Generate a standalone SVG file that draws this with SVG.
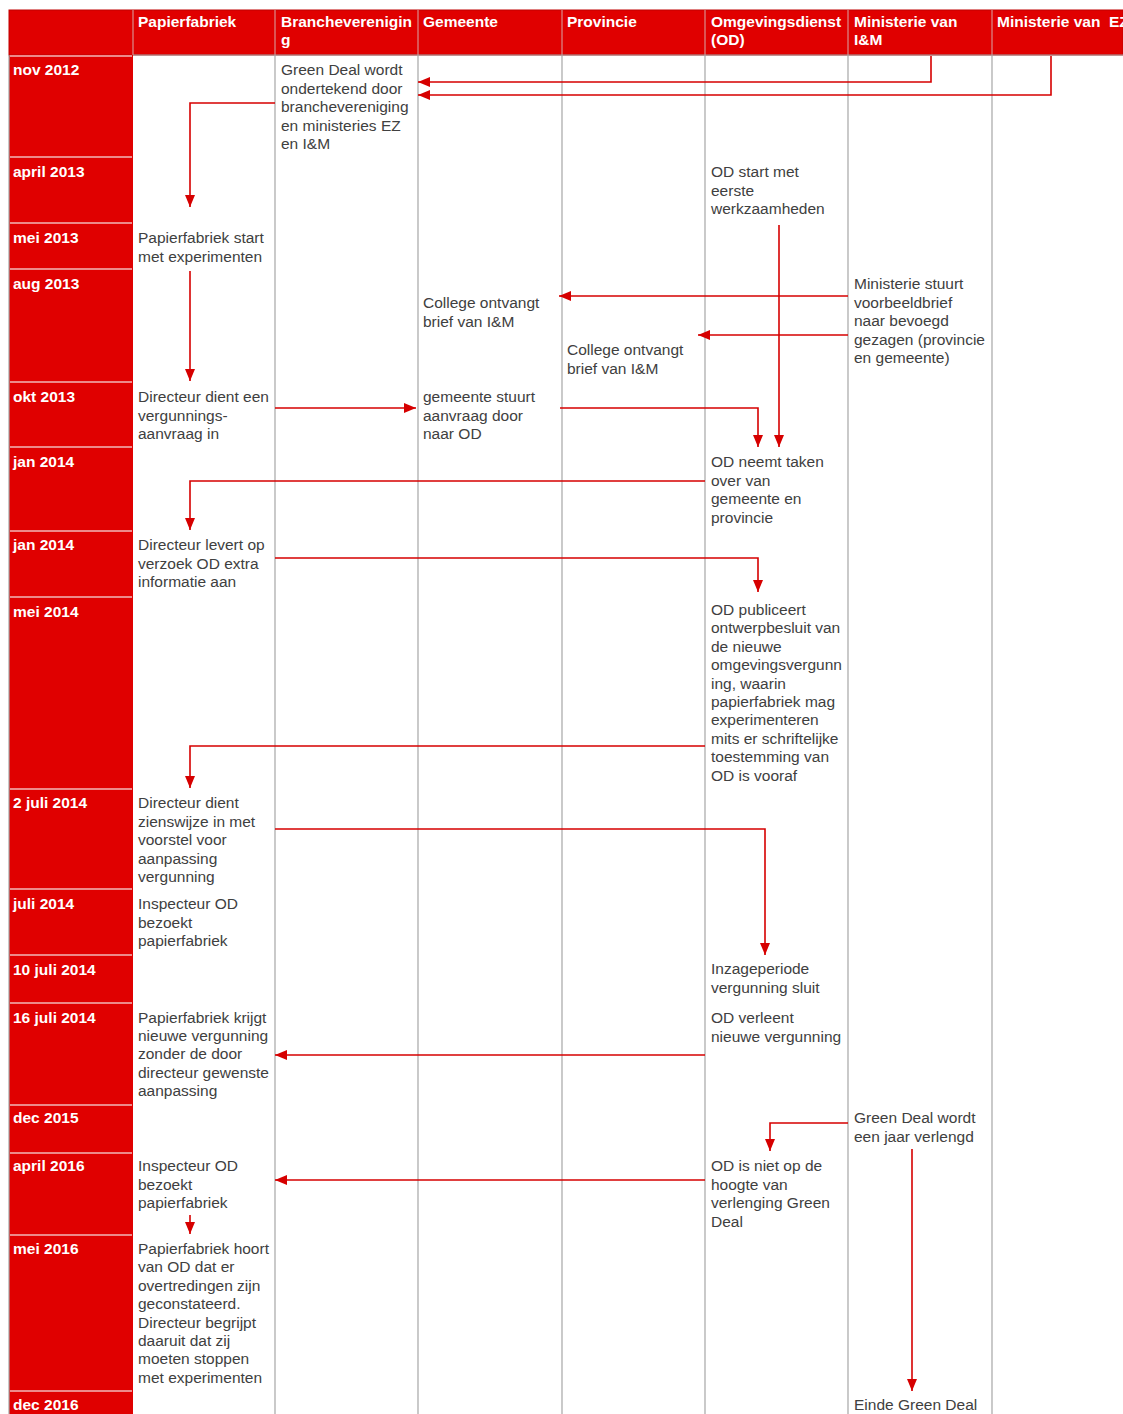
<svg xmlns="http://www.w3.org/2000/svg" width="1123" height="1414" viewBox="0 0 1123 1414">
<defs>
<style>
.h{font-family:"Liberation Sans",Arial,sans-serif;font-size:15.5px;font-weight:bold;fill:#fff}
.d{font-family:"Liberation Sans",Arial,sans-serif;font-size:15.5px;font-weight:bold;fill:#fff}
.t{font-family:"Liberation Sans",Arial,sans-serif;font-size:15.5px;fill:#404040}
.g{stroke:#a6a6a6;stroke-width:1.2}
.s{stroke:#f2b8b8;stroke-width:1.5}
.hs{stroke:#d8a8a8;stroke-width:1}
.c{stroke:#d60000;stroke-width:1.6;fill:none;marker-end:url(#a)}
</style>
<marker id="a" markerUnits="userSpaceOnUse" markerWidth="12" markerHeight="10" refX="12" refY="5" orient="auto">
<path d="M0,0 L12,5 L0,10 z" fill="#d60000"/>
</marker>
</defs>
<rect x="0" y="0" width="1123" height="1414" fill="#fff"/>
<g id="grid">
<rect x="9" y="10" width="1114" height="45" fill="#e00000" stroke="#c00000" stroke-width="1"/>
<rect x="9" y="55" width="124" height="1359" fill="#e00000"/>
<line class="hs" x1="133" y1="10" x2="133" y2="55"/>
<line class="hs" x1="275" y1="10" x2="275" y2="55"/>
<line class="hs" x1="418" y1="10" x2="418" y2="55"/>
<line class="hs" x1="562" y1="10" x2="562" y2="55"/>
<line class="hs" x1="705" y1="10" x2="705" y2="55"/>
<line class="hs" x1="848" y1="10" x2="848" y2="55"/>
<line class="hs" x1="992" y1="10" x2="992" y2="55"/>
<line class="g" x1="9" y1="55" x2="9" y2="1414"/>
<line class="g" x1="275" y1="55" x2="275" y2="1414"/>
<line class="g" x1="418" y1="55" x2="418" y2="1414"/>
<line class="g" x1="562" y1="55" x2="562" y2="1414"/>
<line class="g" x1="705" y1="55" x2="705" y2="1414"/>
<line class="g" x1="848" y1="55" x2="848" y2="1414"/>
<line class="g" x1="992" y1="55" x2="992" y2="1414"/>
<line class="g" x1="133" y1="55" x2="1123" y2="55"/>
<g>
<line class="s" x1="10" y1="56" x2="132" y2="56"/>
<line class="s" x1="10" y1="157" x2="132" y2="157"/>
<line class="s" x1="10" y1="223" x2="132" y2="223"/>
<line class="s" x1="10" y1="269" x2="132" y2="269"/>
<line class="s" x1="10" y1="382" x2="132" y2="382"/>
<line class="s" x1="10" y1="447" x2="132" y2="447"/>
<line class="s" x1="10" y1="531" x2="132" y2="531"/>
<line class="s" x1="10" y1="597" x2="132" y2="597"/>
<line class="s" x1="10" y1="789" x2="132" y2="789"/>
<line class="s" x1="10" y1="889" x2="132" y2="889"/>
<line class="s" x1="10" y1="955" x2="132" y2="955"/>
<line class="s" x1="10" y1="1003" x2="132" y2="1003"/>
<line class="s" x1="10" y1="1105" x2="132" y2="1105"/>
<line class="s" x1="10" y1="1153" x2="132" y2="1153"/>
<line class="s" x1="10" y1="1235" x2="132" y2="1235"/>
<line class="s" x1="10" y1="1391" x2="132" y2="1391"/>
</g>
</g>
<g id="header">
<text class="h" x="138" y="27">Papierfabriek</text>
<text class="h" x="281" y="27">Brancheverenigin<tspan x="281" y="45">g</tspan></text>
<text class="h" x="423" y="27">Gemeente</text>
<text class="h" x="567" y="27">Provincie</text>
<text class="h" x="711" y="27">Omgevingsdienst<tspan x="711" y="45">(OD)</tspan></text>
<text class="h" x="854" y="27">Ministerie van<tspan x="854" y="45">I&amp;M</tspan></text>
<text class="h" x="997" y="27" xml:space="preserve">Ministerie van  EZ</text>
</g>
<g id="dates">
<text class="d" x="13" y="75">nov 2012</text>
<text class="d" x="13" y="177">april 2013</text>
<text class="d" x="13" y="243">mei 2013</text>
<text class="d" x="13" y="289">aug 2013</text>
<text class="d" x="13" y="402">okt 2013</text>
<text class="d" x="13" y="467">jan 2014</text>
<text class="d" x="13" y="550">jan 2014</text>
<text class="d" x="13" y="617">mei 2014</text>
<text class="d" x="13" y="808">2 juli 2014</text>
<text class="d" x="13" y="909">juli 2014</text>
<text class="d" x="13" y="975">10 juli 2014</text>
<text class="d" x="13" y="1023">16 juli 2014</text>
<text class="d" x="13" y="1123">dec 2015</text>
<text class="d" x="13" y="1171">april 2016</text>
<text class="d" x="13" y="1254">mei 2016</text>
<text class="d" x="13" y="1410">dec 2016</text>
</g>
<g id="n1"><text class="t" x="281" y="75">Green Deal wordt<tspan x="281" dy="18.5">ondertekend door</tspan><tspan x="281" dy="18.5">branchevereniging</tspan><tspan x="281" dy="18.5">en ministeries EZ</tspan><tspan x="281" dy="18.5">en I&amp;M</tspan></text></g>
<g id="n2"><text class="t" x="711" y="177">OD start met<tspan x="711" dy="18.5">eerste</tspan><tspan x="711" dy="18.5">werkzaamheden</tspan></text></g>
<g id="n3"><text class="t" x="138" y="243">Papierfabriek start<tspan x="138" dy="18.5">met experimenten</tspan></text></g>
<g id="n4"><text class="t" x="423" y="308">College ontvangt<tspan x="423" dy="18.5">brief van I&amp;M</tspan></text></g>
<g id="n5"><text class="t" x="567" y="355">College ontvangt<tspan x="567" dy="18.5">brief van I&amp;M</tspan></text></g>
<g id="n6"><text class="t" x="854" y="289">Ministerie stuurt<tspan x="854" dy="18.5">voorbeeldbrief</tspan><tspan x="854" dy="18.5">naar bevoegd</tspan><tspan x="854" dy="18.5">gezagen (provincie</tspan><tspan x="854" dy="18.5">en gemeente)</tspan></text></g>
<g id="n7"><text class="t" x="138" y="402">Directeur dient een<tspan x="138" dy="18.5">vergunnings-</tspan><tspan x="138" dy="18.5">aanvraag in</tspan></text></g>
<g id="n8"><text class="t" x="423" y="402">gemeente stuurt<tspan x="423" dy="18.5">aanvraag door</tspan><tspan x="423" dy="18.5">naar OD</tspan></text></g>
<g id="n9"><text class="t" x="711" y="467">OD neemt taken<tspan x="711" dy="18.5">over van</tspan><tspan x="711" dy="18.5">gemeente en</tspan><tspan x="711" dy="18.5">provincie</tspan></text></g>
<g id="n10"><text class="t" x="138" y="550">Directeur levert op<tspan x="138" dy="18.5">verzoek OD extra</tspan><tspan x="138" dy="18.5">informatie aan</tspan></text></g>
<g id="n11"><text class="t" x="711" y="615">OD publiceert<tspan x="711" dy="18.4">ontwerpbesluit van</tspan><tspan x="711" dy="18.4">de nieuwe</tspan><tspan x="711" dy="18.4">omgevingsvergunn</tspan><tspan x="711" dy="18.4">ing, waarin</tspan><tspan x="711" dy="18.4">papierfabriek mag</tspan><tspan x="711" dy="18.4">experimenteren</tspan><tspan x="711" dy="18.4">mits er schriftelijke</tspan><tspan x="711" dy="18.4">toestemming van</tspan><tspan x="711" dy="18.4">OD is vooraf</tspan></text></g>
<g id="n12"><text class="t" x="138" y="808">Directeur dient<tspan x="138" dy="18.5">zienswijze in met</tspan><tspan x="138" dy="18.5">voorstel voor</tspan><tspan x="138" dy="18.5">aanpassing</tspan><tspan x="138" dy="18.5">vergunning</tspan></text></g>
<g id="n13"><text class="t" x="138" y="909">Inspecteur OD<tspan x="138" dy="18.5">bezoekt</tspan><tspan x="138" dy="18.5">papierfabriek</tspan></text></g>
<g id="n14"><text class="t" x="711" y="974">Inzageperiode<tspan x="711" dy="18.5">vergunning sluit</tspan></text></g>
<g id="n15"><text class="t" x="138" y="1023">Papierfabriek krijgt<tspan x="138" dy="18.2">nieuwe vergunning</tspan><tspan x="138" dy="18.2">zonder de door</tspan><tspan x="138" dy="18.2">directeur gewenste</tspan><tspan x="138" dy="18.2">aanpassing</tspan></text></g>
<g id="n16"><text class="t" x="711" y="1023">OD verleent<tspan x="711" dy="18.5">nieuwe vergunning</tspan></text></g>
<g id="n17"><text class="t" x="854" y="1123">Green Deal wordt<tspan x="854" dy="18.5">een jaar verlengd</tspan></text></g>
<g id="n18"><text class="t" x="138" y="1171">Inspecteur OD<tspan x="138" dy="18.5">bezoekt</tspan><tspan x="138" dy="18.5">papierfabriek</tspan></text></g>
<g id="n19"><text class="t" x="711" y="1171">OD is niet op de<tspan x="711" dy="18.5">hoogte van</tspan><tspan x="711" dy="18.5">verlenging Green</tspan><tspan x="711" dy="18.5">Deal</tspan></text></g>
<g id="n20"><text class="t" x="138" y="1254">Papierfabriek hoort<tspan x="138" dy="18.4">van OD dat er</tspan><tspan x="138" dy="18.4">overtredingen zijn</tspan><tspan x="138" dy="18.4">geconstateerd.</tspan><tspan x="138" dy="18.4">Directeur begrijpt</tspan><tspan x="138" dy="18.4">daaruit dat zij</tspan><tspan x="138" dy="18.4">moeten stoppen</tspan><tspan x="138" dy="18.4">met experimenten</tspan></text></g>
<g id="n21"><text class="t" x="854" y="1410">Einde Green Deal</text></g>
<g id="connectors">
<path class="c" d="M931,56 V82 H418"/>
<path class="c" d="M1051,56 V95 H418"/>
<path class="c" d="M275,103 H190 V207"/>
<path class="c" d="M190,271 V381"/>
<path class="c" d="M848,296 H559"/>
<path class="c" d="M848,335 H698"/>
<path class="c" d="M779,225 V447"/>
<path class="c" d="M275,408 H416"/>
<path class="c" d="M560,408 H758 V447"/>
<path class="c" d="M705,481 H190 V530"/>
<path class="c" d="M275,558 H758 V592"/>
<path class="c" d="M705,746 H190 V788"/>
<path class="c" d="M275,829 H765 V955"/>
<path class="c" d="M705,1055 H275"/>
<path class="c" d="M848,1123 H770 V1151"/>
<path class="c" d="M705,1180 H275"/>
<path class="c" d="M190,1215 V1234"/>
<path class="c" d="M912,1149 V1391"/>
</g>
</svg>
